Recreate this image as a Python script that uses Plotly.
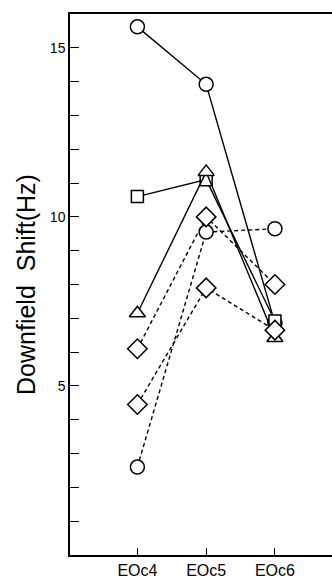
import plotly.graph_objects as go

categories = ["EOc4", "EOc5", "EOc6"]

solid_circle = [15.62, 13.92, 6.85]
solid_square = [10.6, 11.1, 6.92]
solid_triangle = [7.15, 11.33, 6.42]
dashed_circle = [2.6, 9.55, 9.65]
dashed_diamond_a = [6.1, 10.0, 8.0]
dashed_diamond_b = [4.45, 7.9, 6.65]

y_tickvals = list(range(1, 16))
y_ticktext = ["" if v % 5 else str(v) for v in y_tickvals]

series = [
    (solid_circle, "circle", "solid", 14),
    (solid_square, "square", "solid", 12),
    (solid_triangle, "triangle-up", "solid", 14),
    (dashed_circle, "circle", "dash", 14),
    (dashed_diamond_a, "diamond", "dash", 15),
    (dashed_diamond_b, "diamond", "dash", 15),
]

fig = go.Figure()
for vals, sym, dash, size in series:
    fig.add_trace(go.Scatter(
        x=categories, y=vals, mode="lines+markers",
        line=dict(color="black", width=1.4, dash="4px,3px" if dash == "dash" else "solid"),
        marker=dict(symbol=sym, size=size, color="white",
                    line=dict(color="black", width=1.5)),
        showlegend=False,
    ))

fig.update_layout(
    width=332, height=578,
    margin=dict(l=70, r=0, t=14, b=23),
    plot_bgcolor="white", paper_bgcolor="white",
    font=dict(family="Liberation Sans, Arial, sans-serif", color="black"),
)
fig.update_xaxes(
    type="category", range=[-0.98, 2.83],
    showline=True, linecolor="black", linewidth=1.5, mirror=True,
    ticks="inside", ticklen=7, tickwidth=1.2, tickcolor="black",
    showgrid=False, zeroline=False,
    tickfont=dict(size=16),
)
fig.update_yaxes(
    range=[0, 16],
    tickvals=y_tickvals, ticktext=y_ticktext,
    showline=True, linecolor="black", linewidth=1.5,
    ticks="inside", ticklen=9, tickwidth=1.2, tickcolor="black",
    showgrid=False, zeroline=False,
    tickfont=dict(size=14),
    title=dict(text="Downfield\u00a0\u00a0Shift(Hz)", font=dict(size=25), standoff=7),
)

fig.write_html("out.html")
